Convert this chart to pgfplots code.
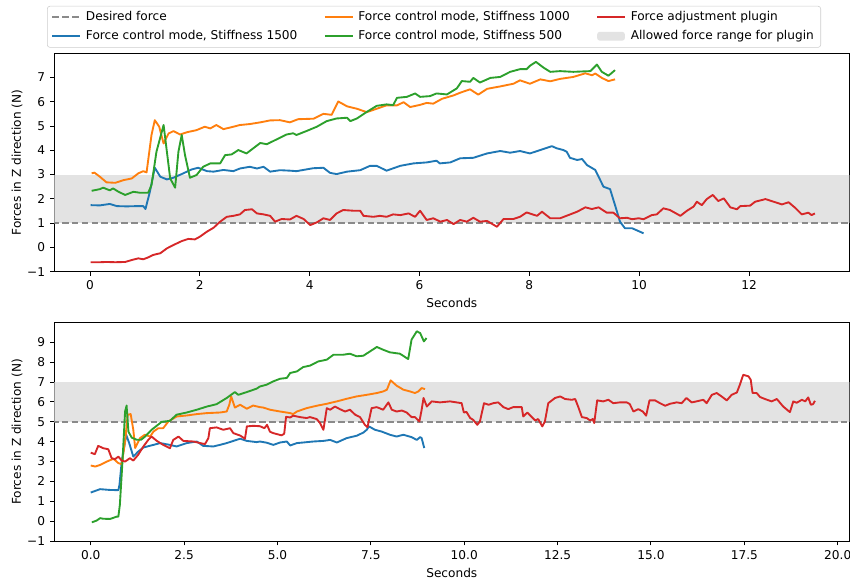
\documentclass[border=0pt]{standalone}
\usepackage{pgfplots}
\pgfplotsset{compat=1.18}
\usepackage{fontspec}
\setmainfont{DejaVu Sans}
\definecolor{c0}{HTML}{1F77B4}
\definecolor{c1}{HTML}{FF7F0E}
\definecolor{c2}{HTML}{2CA02C}
\definecolor{c3}{HTML}{D62728}
\definecolor{bandc}{HTML}{E3E3E3}
\definecolor{dashc}{HTML}{8A8A8A}
\newcommand{\myfs}{\fontsize{8.77}{10.5}\selectfont}
\pgfplotsset{
  base/.style={
    width=572.4bp, height=157bp, scale only axis,
    ymin=-1,
    axis line style={black, line width=0.7bp},
    tick align=outside, tick pos=left,
    major tick length=3.1bp,
    every tick/.style={black, line width=0.7bp},
    tick label style={font=\myfs},
    /pgf/number format/assume math mode=true,
    label style={font=\myfs},
    xlabel={Seconds},
    ylabel={Forces in Z direction (N)},
    xlabel style={at={(axis description cs:0.5,-0.166)}, anchor=base},
    ylabel style={at={(axis description cs:-0.047,0.5)}, anchor=center},
  },
  ln/.style={line width=1.35bp, line join=round},
  dsh/.style={dashc, line width=1.35bp, dash pattern=on 4.8bp off 2.3bp},
  lleg/.style={legend image code/.code={\path[draw=none,fill=none] (0bp,0bp) -- (22.2bp,0bp);\draw[line width=1.35bp,##1] (0bp,0bp) -- (20bp,0bp);}},
  aleg/.style={legend image code/.code={\path[draw=none,fill=none] (0bp,0bp) -- (22.2bp,0bp);\fill[bandc,draw=none] (0bp,-3.2bp) rectangle (20bp,3.2bp);}},
}
\begin{document}
\begin{tikzpicture}
% ---------------- top axis ----------------
\begin{axis}[base,
  at={(39.1bp,222.7bp)}, anchor=south west,
  xmin=-0.650, xmax=13.826, ymax=7.98,
  xtick={0,2,4,6,8,10,12},
  xticklabels={0,2,4,6,8,10,12},
  ytick={-1,0,1,2,3,4,5,6,7},
  yticklabels={−1,0,1,2,3,4,5,6,7},
  legend style={at={(0.4776,1.219)}, anchor=north, legend columns=3,
    draw=black!20, rounded corners=2bp, fill=white,
    font=\myfs,
    /tikz/every even column/.append style={column sep=17bp}, row sep=1.5bp},
  legend cell align=left,
]
\addplot[draw=none, fill=bandc, forget plot] coordinates {(-5,1) (25,1) (25,3) (-5,3)} -- cycle;
\addplot[dsh, forget plot] coordinates {(-5,1) (25,1)};
% Stiffness 1500
\addplot[c0, ln, forget plot] coordinates {
(0.01,1.74) (0.18,1.73) (0.36,1.79) (0.49,1.70) (0.67,1.69) (0.85,1.70) (0.97,1.70) (1.01,1.58) (1.09,2.29) (1.18,3.28) (1.28,2.91) (1.40,2.80) (1.52,2.87) (1.67,3.02) (1.85,3.21) (1.97,3.28) (2.13,3.14) (2.25,3.12) (2.43,3.19) (2.61,3.14) (2.73,3.25) (2.91,3.32) (3.04,3.25) (3.16,3.32) (3.28,3.12) (3.46,3.18) (3.64,3.16) (3.76,3.14) (4.06,3.26) (4.25,3.28) (4.37,3.07) (4.49,3.02) (4.68,3.12) (4.92,3.18) (5.10,3.36) (5.22,3.36) (5.40,3.16) (5.65,3.36) (5.89,3.46) (6.13,3.50) (6.31,3.57) (6.37,3.46) (6.56,3.50) (6.74,3.67) (6.98,3.69) (7.23,3.87) (7.47,3.97) (7.65,3.90) (7.83,3.97) (8.01,3.87) (8.20,4.01) (8.41,4.17) (8.50,4.08) (8.62,4.01) (8.68,3.94) (8.74,3.69) (8.87,3.60) (8.96,3.64) (9.05,3.39) (9.20,3.19) (9.35,2.50) (9.47,2.40) (9.56,1.74) (9.65,1.06) (9.74,0.79) (9.87,0.79) (10.08,0.58)};
% Stiffness 1000
\addplot[c1, ln, forget plot] coordinates {
(0.03,3.05) (0.08,3.08) (0.18,2.91) (0.30,2.68) (0.46,2.66) (0.61,2.77) (0.76,2.84) (0.88,3.05) (0.97,3.14) (1.03,3.09) (1.12,4.63) (1.18,5.24) (1.26,4.97) (1.34,4.28) (1.43,4.69) (1.52,4.79) (1.64,4.65) (1.76,4.74) (1.94,4.83) (2.09,4.97) (2.19,4.90) (2.30,5.04) (2.43,4.87) (2.61,4.97) (2.73,5.04) (2.91,5.08) (3.10,5.15) (3.28,5.23) (3.46,5.24) (3.64,5.15) (3.79,5.28) (4.07,5.30) (4.25,5.50) (4.40,5.46) (4.52,6.01) (4.68,5.81) (4.86,5.71) (5.04,5.57) (5.22,5.71) (5.40,5.85) (5.59,5.85) (5.71,5.98) (5.83,5.78) (6.01,5.87) (6.13,5.95) (6.25,5.92) (6.41,6.12) (6.62,6.26) (6.74,6.37) (6.92,6.51) (7.07,6.29) (7.23,6.53) (7.47,6.63) (7.71,6.74) (7.83,6.88) (8.01,6.74) (8.20,6.92) (8.38,6.84) (8.56,6.94) (8.80,7.02) (9.02,7.17) (9.14,7.09) (9.20,7.16) (9.32,6.98) (9.44,6.85) (9.56,6.92)};
% Stiffness 500
\addplot[c2, ln, forget plot] coordinates {
(0.03,2.33) (0.18,2.40) (0.24,2.46) (0.36,2.35) (0.42,2.43) (0.52,2.29) (0.64,2.16) (0.79,2.29) (0.91,2.25) (1.06,2.25) (1.12,2.57) (1.21,3.94) (1.34,5.04) (1.46,2.84) (1.55,2.46) (1.61,3.94) (1.67,4.63) (1.73,3.80) (1.82,2.87) (1.94,2.98) (2.06,3.32) (2.19,3.46) (2.37,3.46) (2.46,3.80) (2.58,3.83) (2.70,4.01) (2.85,3.87) (3.10,4.30) (3.22,4.25) (3.40,4.45) (3.58,4.65) (3.70,4.70) (3.76,4.63) (3.95,4.80) (4.13,4.97) (4.31,5.20) (4.49,5.31) (4.68,5.34) (4.74,5.20) (4.86,5.31) (5.04,5.58) (5.22,5.83) (5.40,5.89) (5.52,5.86) (5.59,6.16) (5.77,6.20) (5.92,6.34) (6.01,6.20) (6.19,6.23) (6.31,6.34) (6.50,6.30) (6.68,6.55) (6.77,6.85) (6.92,6.82) (6.98,6.98) (7.10,6.79) (7.29,6.98) (7.47,7.02) (7.65,7.23) (7.83,7.34) (7.95,7.34) (8.01,7.48) (8.12,7.64) (8.26,7.40) (8.38,7.23) (8.56,7.26) (8.80,7.23) (9.11,7.26) (9.23,7.53) (9.32,7.23) (9.44,7.07) (9.56,7.30)};
% Force adjustment plugin
\addplot[c3, ln, forget plot] coordinates {
(0.01,-0.61) (0.18,-0.61) (0.30,-0.60) (0.46,-0.61) (0.64,-0.60) (0.76,-0.52) (0.88,-0.45) (0.97,-0.49) (1.06,-0.41) (1.15,-0.31) (1.28,-0.24) (1.40,-0.04) (1.52,0.10) (1.67,0.26) (1.79,0.35) (1.91,0.33) (2.00,0.44) (2.13,0.65) (2.25,0.81) (2.37,1.06) (2.49,1.26) (2.61,1.30) (2.73,1.36) (2.82,1.54) (2.95,1.57) (3.04,1.40) (3.16,1.36) (3.28,1.30) (3.37,1.06) (3.49,1.17) (3.64,1.15) (3.76,1.30) (3.89,1.17) (4.01,0.92) (4.13,1.03) (4.25,1.20) (4.37,1.13) (4.49,1.40) (4.61,1.54) (4.80,1.51) (4.92,1.51) (4.98,1.30) (5.16,1.26) (5.28,1.30) (5.40,1.26) (5.52,1.36) (5.65,1.33) (5.80,1.40) (5.92,1.26) (6.01,1.51) (6.13,1.13) (6.25,1.20) (6.38,1.06) (6.50,1.13) (6.62,0.96) (6.74,1.13) (6.86,1.06) (6.98,1.22) (7.10,1.06) (7.23,1.09) (7.41,0.85) (7.53,1.17) (7.71,1.17) (7.83,1.26) (7.95,1.44) (8.14,1.30) (8.23,1.47) (8.38,1.20) (8.56,1.20) (8.71,1.33) (8.87,1.47) (9.02,1.65) (9.14,1.58) (9.26,1.65) (9.41,1.43) (9.53,1.43) (9.65,1.20) (9.78,1.22) (9.87,1.16) (9.99,1.20) (10.08,1.16) (10.23,1.33) (10.32,1.36) (10.44,1.61) (10.56,1.54) (10.75,1.30) (10.87,1.51) (10.99,1.68) (11.05,1.88) (11.14,1.74) (11.23,1.99) (11.34,2.16) (11.44,1.91) (11.54,2.02) (11.66,1.65) (11.78,1.57) (11.84,1.70) (12.02,1.72) (12.11,1.88) (12.30,1.99) (12.45,1.88) (12.60,1.77) (12.72,1.86) (12.84,1.63) (12.96,1.36) (13.08,1.43) (13.14,1.33) (13.20,1.40)};
\addlegendimage{lleg, dsh}\addlegendentry{Desired force}
\addlegendimage{lleg, c1, ln}\addlegendentry{Force control mode, Stiffness 1000}
\addlegendimage{lleg, c3, ln}\addlegendentry{Force adjustment plugin}
\addlegendimage{lleg, c0, ln}\addlegendentry{Force control mode, Stiffness 1500}
\addlegendimage{lleg, c2, ln}\addlegendentry{Force control mode, Stiffness 500}
\addlegendimage{aleg, draw=none}\addlegendentry{Allowed force range for plugin}
\end{axis}
% ---------------- bottom axis ----------------
\begin{axis}[base,
  at={(39.1bp,28.8bp)}, anchor=south west,
  xmin=-0.975, xmax=20.31, ymax=9.98,
  xtick={0,2.5,5,7.5,10,12.5,15,17.5,20},
  xticklabels={0.0,2.5,5.0,7.5,10.0,12.5,15.0,17.5,20.0},
  ytick={-1,0,1,2,3,4,5,6,7,8,9},
  yticklabels={−1,0,1,2,3,4,5,6,7,8,9},
]
\addplot[draw=none, fill=bandc, forget plot] coordinates {(-5,5) (25,5) (25,7) (-5,7)} -- cycle;
\addplot[dsh, forget plot] coordinates {(-5,5) (25,5)};
\addplot[c0, ln, forget plot] coordinates {
(0,1.44) (0.25,1.61) (0.52,1.57) (0.74,1.56) (0.77,1.83) (0.83,3.00) (0.95,4.35) (1.03,3.93) (1.14,3.25) (1.27,3.50) (1.41,3.71) (1.68,3.84) (1.86,3.93) (2.12,3.84) (2.30,3.76) (2.57,3.93) (2.84,4.01) (3.01,3.79) (3.28,3.76) (3.46,3.84) (3.64,3.93) (3.82,4.04) (4.00,4.15) (4.18,4.04) (4.44,3.98) (4.53,4.01) (4.71,3.95) (4.89,3.84) (5.07,3.96) (5.25,4.01) (5.34,3.81) (5.52,3.93) (5.69,3.96) (5.96,4.01) (6.23,4.04) (6.41,4.09) (6.59,3.96) (6.85,4.18) (7.12,4.30) (7.30,4.46) (7.39,4.60) (7.45,4.77) (7.61,4.60) (7.79,4.51) (8.01,4.35) (8.19,4.26) (8.37,4.35) (8.59,4.23) (8.73,4.09) (8.82,4.23) (8.86,4.18) (8.93,3.68)};
\addplot[c1, ln, forget plot] coordinates {
(0,2.80) (0.12,2.75) (0.25,2.83) (0.43,3.00) (0.61,3.14) (0.74,2.92) (0.83,2.87) (0.92,4.01) (0.99,5.36) (1.07,5.39) (1.14,4.60) (1.19,3.68) (1.32,4.18) (1.45,4.35) (1.59,4.26) (1.68,4.51) (1.81,4.68) (1.94,4.68) (2.08,5.02) (2.30,5.27) (2.57,5.32) (2.84,5.39) (3.11,5.44) (3.46,5.47) (3.64,5.52) (3.71,5.86) (3.76,6.28) (3.86,5.72) (4.00,5.86) (4.18,5.66) (4.35,5.82) (4.53,5.74) (4.62,5.72) (4.80,5.61) (5.07,5.52) (5.34,5.44) (5.42,5.39) (5.52,5.52) (5.78,5.69) (6.05,5.81) (6.32,5.91) (6.59,6.03) (6.85,6.16) (7.12,6.28) (7.39,6.36) (7.66,6.45) (7.83,6.53) (7.93,6.62) (8.03,7.09) (8.19,6.82) (8.37,6.62) (8.55,6.53) (8.68,6.45) (8.77,6.53) (8.86,6.70) (8.95,6.65)};
\addplot[c2, ln, forget plot] coordinates {
(0.03,-0.06) (0.16,0.03) (0.25,0.15) (0.34,0.12) (0.52,0.11) (0.70,0.23) (0.74,0.23) (0.78,0.82) (0.85,3.00) (0.92,5.52) (0.96,5.82) (1.01,4.50) (1.10,4.20) (1.23,4.10) (1.35,4.10) (1.45,4.25) (1.63,4.60) (1.90,5.00) (2.12,5.05) (2.30,5.36) (2.57,5.47) (2.84,5.61) (3.11,5.77) (3.37,5.89) (3.64,6.20) (3.86,6.50) (3.95,6.36) (4.18,6.50) (4.44,6.67) (4.53,6.78) (4.71,6.87) (4.89,7.04) (5.07,7.17) (5.25,7.21) (5.34,7.46) (5.52,7.54) (5.69,7.76) (5.87,7.83) (6.09,8.04) (6.32,8.13) (6.50,8.38) (6.76,8.38) (6.94,8.43) (7.12,8.30) (7.30,8.33) (7.48,8.55) (7.66,8.77) (7.83,8.63) (8.01,8.50) (8.28,8.43) (8.50,8.16) (8.59,9.14) (8.73,9.56) (8.82,9.47) (8.92,9.05) (8.99,9.22)};
\addplot[c3, ln, forget plot] coordinates {
(0,3.45) (0.11,3.37) (0.20,3.79) (0.34,3.67) (0.47,3.62) (0.56,3.17) (0.65,3.12) (0.74,3.25) (0.83,3.05) (0.92,3.00) (1.05,3.17) (1.14,3.05) (1.27,3.34) (1.41,3.76) (1.54,4.09) (1.63,4.26) (1.77,4.04) (1.94,3.84) (2.12,3.67) (2.21,4.09) (2.35,4.26) (2.48,4.04) (2.75,4.01) (2.93,3.93) (3.06,3.88) (3.15,4.18) (3.19,4.68) (3.37,4.72) (3.55,4.60) (3.73,4.68) (3.82,4.43) (4.00,4.31) (4.13,4.15) (4.18,4.77) (4.35,4.80) (4.53,4.78) (4.65,4.68) (4.72,4.85) (4.80,4.50) (4.89,4.43) (5.11,4.32) (5.18,4.40) (5.23,5.25) (5.34,5.22) (5.42,5.31) (5.60,5.24) (5.78,5.19) (5.87,5.24) (6.05,5.14) (6.14,4.94) (6.23,4.60) (6.32,5.69) (6.41,5.61) (6.54,5.77) (6.67,5.64) (6.81,5.52) (6.94,5.61) (7.08,5.36) (7.21,5.24) (7.34,4.85) (7.41,4.73) (7.52,5.69) (7.66,5.74) (7.83,5.61) (7.97,5.98) (8.06,5.61) (8.19,5.52) (8.33,5.57) (8.46,5.47) (8.59,5.24) (8.68,5.24) (8.80,5.02) (8.86,5.61) (8.91,6.20) (9.00,5.77) (9.13,6.03) (9.35,5.98) (9.62,6.03) (9.93,5.94) (9.99,5.47) (10.06,5.50) (10.16,5.19) (10.24,5.10) (10.35,4.85) (10.42,5.02) (10.53,5.94) (10.65,5.86) (10.78,5.94) (10.91,5.98) (11.05,5.74) (11.18,5.64) (11.31,5.74) (11.54,5.74) (11.58,5.27) (11.69,5.47) (11.81,5.24) (11.90,5.07) (11.98,5.14) (12.09,4.77) (12.16,5.02) (12.25,5.94) (12.43,6.20) (12.57,6.28) (12.70,6.15) (12.88,6.11) (12.97,6.15) (13.05,5.77) (13.15,5.24) (13.28,5.19) (13.37,5.07) (13.44,5.14) (13.48,4.94) (13.56,6.08) (13.72,6.03) (13.86,6.11) (13.99,5.94) (14.17,5.98) (14.35,5.98) (14.43,5.90) (14.53,5.52) (14.66,5.64) (14.78,5.52) (14.87,5.31) (14.96,6.08) (15.11,6.08) (15.24,5.94) (15.38,5.81) (15.51,5.91) (15.69,5.98) (15.82,5.94) (15.95,6.20) (16.09,5.98) (16.22,6.03) (16.40,6.11) (16.49,5.94) (16.63,6.36) (16.76,6.45) (16.89,6.28) (17.03,6.08) (17.16,6.36) (17.30,6.48) (17.38,6.87) (17.47,7.37) (17.61,7.29) (17.67,7.12) (17.72,6.45) (17.83,6.45) (17.92,6.25) (18.05,6.15) (18.23,6.03) (18.37,6.15) (18.54,5.77) (18.70,5.52) (18.72,5.49) (18.81,6.03) (18.90,5.96) (19.04,6.11) (19.13,6.03) (19.21,6.23) (19.28,5.86) (19.34,5.89) (19.39,6.06)};
\end{axis}
\pgfresetboundingbox
\path[use as bounding box] (0,0) rectangle (612bp,418.32bp);
\end{tikzpicture}
\end{document}
